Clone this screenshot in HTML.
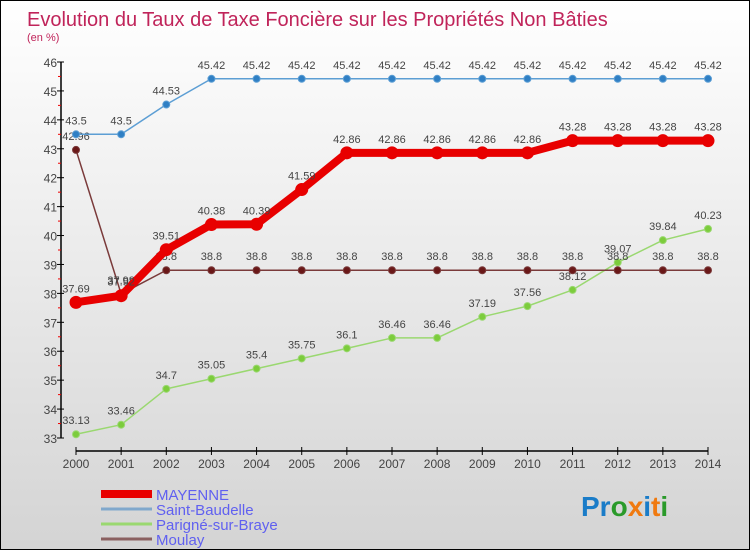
<!DOCTYPE html>
<html><head><meta charset="utf-8"><style>
html,body{margin:0;padding:0}
body{width:750px;height:550px;overflow:hidden;font-family:"Liberation Sans",sans-serif}
#wrap{position:relative;width:748px;height:548px;border:1px solid #000;background:linear-gradient(#fff,#d4d4d4)}
svg{position:absolute;left:0;top:0}
</style></head><body>
<div id="wrap">
<svg id="c" width="750" height="550">
<text x="26" y="25" font-size="20" fill="#c0245a">Evolution du Taux de Taxe Foncière sur les Propriétés Non Bâties</text>
<text x="26" y="40" font-size="11" fill="#c0245a">(en %)</text>
<text x="580" y="515" font-size="28" font-weight="bold"><tspan fill="#1a7cc8">Pr</tspan><tspan fill="#2a9a2a">o</tspan><tspan fill="#f07a10">x</tspan><tspan fill="#1a7cc8">i</tspan><tspan fill="#f07a10">t</tspan><tspan fill="#2a9a2a">i</tspan></text>
</svg>
</div>
<script>
const years=[2000,2001,2002,2003,2004,2005,2006,2007,2008,2009,2010,2011,2012,2013,2014];
const yTicks=[33,34,35,36,37,38,39,40,41,42,43,44,45,46];
const mayenne=[37.69,37.92,39.51,40.38,40.39,41.59,42.86,42.86,42.86,42.86,42.86,43.28,43.28,43.28,43.28];
const saintBaudelle=[43.5,43.5,44.53,45.42,45.42,45.42,45.42,45.42,45.42,45.42,45.42,45.42,45.42,45.42,45.42];
const parigne=[33.13,33.46,34.7,35.05,35.4,35.75,36.1,36.46,36.46,37.19,37.56,38.12,39.07,39.84,40.23];
const moulay=[42.96,37.98,38.8,38.8,38.8,38.8,38.8,38.8,38.8,38.8,38.8,38.8,38.8,38.8,38.8];
const parigneLabels=["33.13","33.46","34.7","35.05","35.4","35.75","36.1","36.46","36.46","37.19","37.56","38.12","39.07","39.84","40.23"];
const svg=document.getElementById('c');const NS='http://www.w3.org/2000/svg';
function X(i){return 75+i*(707-75)/(years.length-1);}
function Y(v){return 437-(v-33)*(437-61)/13;}
function el(t,a,p){const e=document.createElementNS(NS,t);for(const k in a)e.setAttribute(k,a[k]);(p||svg).appendChild(e);return e;}
// axes
const ya=el('line',{x1:60,y1:61,x2:60,y2:437,stroke:'#000','stroke-width':1.5});


yTicks.forEach(v=>{el('line',{x1:56,x2:63,y1:Y(v),y2:Y(v),stroke:'#000'});
 if(v<46)el('line',{x1:57,x2:60,y1:Y(v+0.5),y2:Y(v+0.5),stroke:'#e00'});
 const t=el('text',{x:56,y:Y(v)+5,'font-size':12,fill:'#444','text-anchor':'end'});t.textContent=v;
 
 });
const xa=el('line',{x1:75,y1:450,x2:707,y2:450,stroke:'#000','stroke-width':1.5});


years.forEach((y,i)=>{el('line',{x1:X(i),x2:X(i),y1:446,y2:454,stroke:'#000'});
 const t=el('text',{x:X(i),y:467,'font-size':12,fill:'#444','text-anchor':'middle'});t.textContent=y;
 
 });
function series(d,col,fill,w,r,name,labels){
 const g=el('g',{});
 
 
 el('polyline',{points:d.map((v,i)=>X(i)+','+Y(v)).join(' '),fill:'none',stroke:col,'stroke-width':w,'stroke-linejoin':'round'},g);
 d.forEach((v,i)=>{const c=el('circle',{cx:X(i),cy:Y(v),r:r,fill:fill,stroke:col,'stroke-width':1},g);
  
  
  const t=el('text',{x:X(i),y:Y(v)-10,'font-size':11,fill:'#444','text-anchor':'middle'},g);t.textContent=labels?labels[i]:v;});
}
series(parigne,'#9ad870','#7ccc3c',1.5,3.5,'parigne-series',parigneLabels);
series(moulay,'#7a3a3a','#6a1818',1.5,3.5,'moulay-series');
series(saintBaudelle,'#5c9ed4','#2f7fc4',1.5,3.5,'saint-baudelle-series');
series(mayenne,'#e80000','#e80000',8,6,'mayenne-series');
const leg=[['MAYENNE','#e80000',8],['Saint-Baudelle','#80a8cc',3],['Parigné-sur-Braye','#9ad870',3],['Moulay','#8a6060',3]];
leg.forEach((l,i)=>{const g=el('g',{});
 
 
 const y=493+i*15;el('line',{x1:100,x2:151,y1:y,y2:y,stroke:l[1],'stroke-width':l[2]},g);
 const t=el('text',{x:155,y:y+6,'font-size':15,fill:'#6060f0'},g);t.textContent=l[0];});
</script>
</body></html>
